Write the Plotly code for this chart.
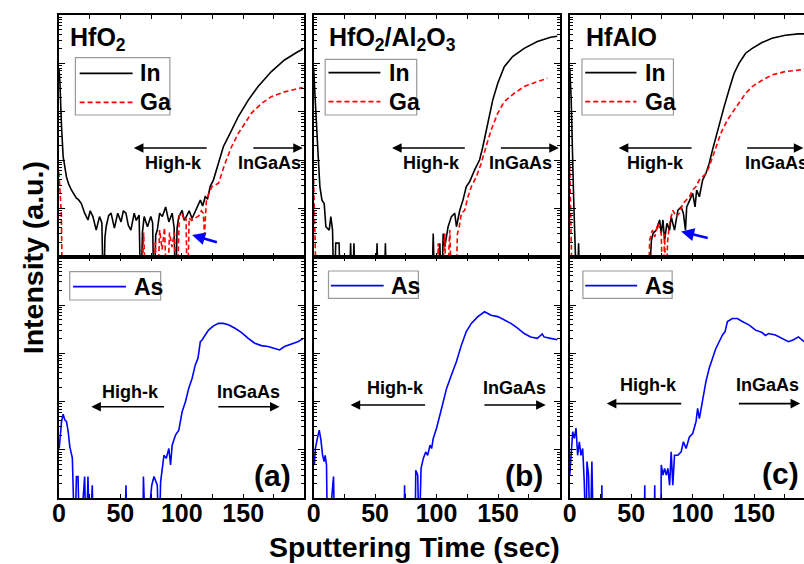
import plotly.graph_objects as go

# ---------------- data (time in sec, log10 intensity in a.u.) ----------------
t_in_a = [0, 0.8, 2.2, 3.5, 6.2, 8, 10.2, 12, 14.3, 16, 18.3, 21, 23.7, 25.5, 27.7, 30.4, 33.1, 35, 36.3, 37.5,
          38.5, 40.5, 42.5, 45.2, 47.9, 50.6, 52.5, 54.6, 56.5, 58.6, 61.3, 63, 65.3, 66.7, 68, 69.4, 72.1, 74.8,
          76.3, 77.4, 78.8, 80.1, 82, 84.2, 86.9, 89.5, 92.2, 93.8, 94.9, 96.2, 97.6, 100.3, 102, 104.3, 106,
          108.4, 110.5, 112.4, 115.1, 117, 119.1, 121, 123.1, 125.8, 129.9, 133.9, 139.3, 146, 154.1, 162.1,
          172.9, 183.6, 194.4, 198.4]
lg_in_a = [3.9, 3.65, 2.69, 2.07, 1.65, 1.5, 1.38, 1.3, 1.21, 1.18, 1.10, 0.90, 0.76, 0.95, 0.83, 0.55, 0.83, 0.7,
           -1, 0.4, 0.62, 0.85, 0.90, 0.59, 0.90, 0.72, 0.95, 0.90, 0.65, 0.55, 0.90, 0.75, 0.86, -1, 0.5, 0.83,
           0.62, 0.83, 0.7, -1, 0.45, 0.55, 0.9, 0.83, 1.03, 0.72, 0.90, 0.6, -1, 0.6, 0.83, 0.96, 0.75, 0.86,
           0.95, 0.79, 0.9, 1.03, 1.17, 1.05, 1.24, 1.2, 1.45, 1.59, 1.93, 2.28, 2.55, 2.90, 3.24, 3.52, 3.83,
           4.07, 4.24, 4.29]

t_ga_a = [0, 1, 2, 3, 67, 69, 71, 77, 78.5, 80, 82, 84, 86, 88, 90, 92, 94, 96, 98, 100, 102, 103.5, 104.5, 106,
          108, 111, 114, 116, 117.5, 118.5, 120, 122, 124.5, 129.9, 135.2, 140.6, 146, 151.4, 156.7, 164.8,
          172.9, 183.6, 198.4]
lg_ga_a = [1.75, 1.3, 0.9, -1, -1, 0.5, -1, -1, 0.3, -1, 0.55, 0.15, 0.6, -1, 0.5, 0.2, 0.5, -1, 0.85, 0.9,
           0.75, 0.8, -1, 0.8, 0.75, 0.8, 0.85, 0.95, 0.9, 0.45, 1.15, 1.3, 1.45, 1.52, 1.93, 2.28, 2.55, 2.76,
           2.97, 3.17, 3.31, 3.41, 3.50]

t_as_a = [0.3, 2.2, 3.5, 4.9, 6.2, 7.6, 8.9, 11.0, 12.9, 14.3, 15.6, 17, 21, 22.3, 23.7, 25, 27.2, 28.3, 53.5,
          54.6, 55.7, 68.3, 68.8, 70.7, 75.6, 77.4, 80.1, 81.5, 82.8, 84.2, 85.5, 87.4, 89.5, 90.9, 92.2, 94.9,
          97.6, 100.3, 103, 105.7, 108.4, 111.0, 113.2, 115.1, 116.4, 119.1, 121.8, 125.8, 129.9, 133.9, 137.9,
          143.3, 148.7, 154.1, 159.4, 164.8, 170.2, 175.6, 179.6, 183.6, 189, 194.4, 198.4]
lg_as_a = [1.03, 1.59, 1.74, 1.62, 1.59, 1.38, 1.07, 0.83, -1, 0.45, 0.45, -1, 0.45, -1, 0.45, -1, 0.27, -1, -1,
           0.27, -1, -1, 0.45, -1, 0.27, 0.45, 0.27, -1, 0.34, 0.62, 0.89, 0.83, 1.03, 0.69, 1.10, 1.31, 1.41,
           1.79, 2.0, 2.28, 2.48, 2.76, 2.90, 3.24, 3.27, 3.38, 3.48, 3.57, 3.62, 3.62, 3.59, 3.52, 3.43, 3.31,
           3.21, 3.16, 3.14, 3.10, 3.07, 3.14, 3.19, 3.24, 3.30]

t_in_b = [0, 1.4, 3.3, 5.1, 6.8, 8.6, 9.97, 12.7, 14, 15.4, 16.7, 18, 20.7, 22.1, 28.8, 30.1, 31.5, 32.8, 34.2,
          50.5, 51.6, 52.8, 57.2, 58.4, 59.6, 96, 97.3, 98.7, 101.5, 102.7, 104, 105.4, 106.7, 109.4, 112.1, 114.8,
          116.2, 118.9, 121.5, 124.2, 126.9, 130.9, 135, 137.7, 141.7, 145.7, 149.8, 155.1, 161.9, 171.3, 182.0,
          192.8, 198.2]
lg_in_b = [3.9, 3.31, 2.28, 1.45, 1.17, 1.10, 0.62, 0.55, 0.83, 0.55, -1, 0.28, 0.28, -1, -1, 0.28, -1, 0.28, -1,
           -1, 0.28, -1, -1, 0.28, -1, -1, 0.48, -1, -1, 0.28, -1, 0.48, 0.2, 0.62, 0.83, 0.90, 0.62, 0.96, 1.17,
           1.45, 1.55, 1.79, 2.0, 2.28, 2.76, 3.24, 3.59, 3.93, 4.14, 4.31, 4.45, 4.54, 4.56]

t_ga_b = [0, 0.6, 1.5, 2.5, 100, 101.4, 103.5, 106.7, 108, 110.8, 112.5, 115.5, 117, 118.5, 120.2, 122.9, 125.6,
          128.3, 132.3, 136.3, 140.3, 144.4, 149.8, 155.1, 163.2, 171.3, 182, 190.1]
lg_ga_b = [1.6, 1.17, 0.55, -1, -1, 0.28, -1, 0.48, -1, 0.55, -1, -1, 0.48, 0.62, 0.90, 0.96, 1.24, 1.45, 1.65,
           1.93, 2.28, 2.62, 2.97, 3.21, 3.38, 3.52, 3.62, 3.69]

t_as_b = [0.6, 1.4, 3.3, 4.6, 6.0, 7.3, 8.6, 9.4, 10.5, 11.3, 16.2, 17.2, 73.5, 74, 74.5, 82.5, 83.1, 84.7, 85.8,
          87.4, 89.3, 91.2, 92.8, 94.7, 96, 97.3, 100, 102.7, 104.6, 108.1, 112.1, 116.2, 120.2, 124.2, 128.3,
          133.6, 139, 144.4, 149.8, 155.1, 160.5, 165.9, 171.3, 176.6, 182, 186, 187.4, 192.8, 198.2]
lg_as_b = [0.69, 1.03, 1.27, 1.41, 1.20, 0.89, 0.76, 0.89, 0.69, -1, 0.45, -1, -1, 0.27, -1, -1, 0.58, 0.48, -1,
           0.62, 0.83, 0.96, 0.89, 1.10, 1.03, 1.24, 1.45, 1.72, 1.93, 2.27, 2.55, 2.83, 3.17, 3.45, 3.62, 3.76,
           3.86, 3.79, 3.76, 3.69, 3.62, 3.52, 3.41, 3.34, 3.31, 3.40, 3.34, 3.31, 3.28]

t_in_c = [0, 1.1, 3.2, 4.6, 5.9, 7.2, 8.3, 63.7, 66.4, 67.7, 70.4, 73.1, 74.4, 75.8, 77.1, 79, 81.2, 82.5, 85.2,
          87.9, 90.6, 92.4, 94.1, 95.1, 97.3, 100, 101.9, 103.2, 105.4, 108.1, 110.7, 113.4, 116.1, 118.8, 121.5,
          125.5, 129.5, 133.6, 137.6, 143, 148.4, 156.4, 164.5, 175.3, 186, 190.6]
lg_in_c = [3.9, 3.31, 1.17, 0.48, -1, 0.28, -1, -1, 0.34, 0.48, 0.55, 0.76, 0.48, 0.76, 0.34, 0.69, 0.55, 0.83,
           0.55, 0.96, 1.03, 0.90, 0.55, 1.03, 1.17, 1.31, 1.03, 1.38, 1.24, 1.59, 1.72, 1.93, 2.21, 2.48, 2.76,
           3.10, 3.45, 3.79, 4.0, 4.21, 4.31, 4.43, 4.52, 4.58, 4.61, 4.61]

t_ga_c = [0, 0.5, 1.2, 2.2, 63.5, 65, 67.2, 69.1, 71.7, 74.4, 75.8, 77.1, 78.5, 79.5, 81.2, 83.8, 86.5, 89.2,
          91.9, 94.6, 97.3, 100, 102.7, 105.4, 108.1, 110.7, 113.4, 116.1, 118.8, 122.8, 128.2, 133.6, 138.9, 143,
          148.4, 156.4, 164.5, 175.3, 186, 190.6]
lg_ga_c = [1.9, 1.5, 0.6, -1, -1, 0.34, 0.55, 0.41, 0.69, 0.48, -1, 0.48, -1, 0.3, 0.69, 0.96, 0.83, 0.90, 1.10,
           1.17, 1.24, 1.38, 1.45, 1.59, 1.65, 1.72, 1.86, 2.07, 2.28, 2.55, 2.83, 3.03, 3.24, 3.38, 3.52, 3.65,
           3.76, 3.83, 3.86, 3.88]

t_as_c = [0, 1.1, 2.4, 3.7, 5.1, 6.4, 7.8, 9.1, 10.5, 11.8, 13.2, 14, 15.3, 16.6, 18, 19.3, 25.6, 26.1, 26.6,
          60.5, 61, 61.5, 68.6, 69.1, 69.6, 74, 74.4, 75.8, 77.1, 78.5, 79.8, 81.2, 82.5, 83.8, 85.2, 87.9, 90.6,
          92.4, 94.6, 97.3, 100, 102.7, 104, 105.4, 108.1, 110.7, 113.4, 116.1, 118.8, 121.5, 124.2, 126.3, 128.2,
          132.2, 136.3, 140.3, 145.7, 151.1, 156.4, 159.1, 161.8, 167.2, 172.6, 177.9, 182, 186, 190.6]
lg_as_c = [0.48, 1.03, 1.38, 1.24, 1.45, 0.89, 1.17, 0.89, 1.03, 0.34, -1, 0.76, 0.48, -1, 0.76, -1, -1, 0.27, -1,
           -1, 0.27, -1, -1, 0.27, -1, -1, 0.69, 0.48, 0.62, 0.48, 0.62, 0.27, 0.96, 0.27, 0.89, 0.89, 0.96, 1.17,
           1.03, 1.27, 1.34, 1.59, 1.86, 1.65, 2.07, 2.41, 2.69, 2.90, 3.10, 3.24, 3.38, 3.45, 3.66, 3.72, 3.72,
           3.66, 3.59, 3.48, 3.43, 3.37, 3.41, 3.38, 3.31, 3.24, 3.28, 3.34, 3.24]

panel_titles = ["HfO<sub>2</sub>", "HfO<sub>2</sub>/Al<sub>2</sub>O<sub>3</sub>", "HfAlO"]
panel_letters = ["(a)", "(b)", "(c)"]
x_tick_vals = [0, 50, 100, 150]
x_tick_text = ["0", "50", "100", "150"]
x_title = "Sputtering Time (sec)"
y_title = "Intensity (a.u.)"

# ---------------- layout helpers ----------------
W, H = 804, 564
FONT = "Liberation Sans, Arial, sans-serif"


def px(x):
    return x / W


def py(y):
    return 1 - y / H


col_x = [(52.3, 299.3), (309.3, 557.7), (567.7, 804.0)]
x_ranges = [[0, 199.2], [0, 200.3], [0, 190.5]]
row_y = [(15.0, 256.7), (256.7, 498.3)]

fig = go.Figure()


def add_line(idx, t, lg, color, dash="solid", width=1.6):
    n = min(len(t), len(lg))
    fig.add_trace(go.Scatter(
        x=t[:n], y=[10 ** v for v in lg[:n]], mode="lines",
        line=dict(color=color, width=width, dash=dash),
        xaxis="x" if idx == 1 else f"x{idx}", yaxis="y" if idx == 1 else f"y{idx}",
        showlegend=False, hoverinfo="skip"))


BLACK, RED, BLUE = "#000000", "#ff0000", "#0000ff"
add_line(1, t_in_a, lg_in_a, BLACK)
add_line(1, t_ga_a, lg_ga_a, RED, "5px,3px")
add_line(2, t_in_b, lg_in_b, BLACK)
add_line(2, t_ga_b, lg_ga_b, RED, "5px,3px")
add_line(3, t_in_c, lg_in_c, BLACK)
add_line(3, t_ga_c, lg_ga_c, RED, "5px,3px")
add_line(4, t_as_a, lg_as_a, BLUE)
add_line(5, t_as_b, lg_as_b, BLUE)
add_line(6, t_as_c, lg_as_c, BLUE)

layout = dict(
    width=W, height=H, autosize=False,
    margin=dict(l=0, r=0, t=0, b=0),
    paper_bgcolor="white", plot_bgcolor="white",
    font=dict(family=FONT, color="black"),
    showlegend=False,
)

for r in range(2):
    for c in range(3):
        idx = r * 3 + c + 1
        xname = "xaxis" if idx == 1 else f"xaxis{idx}"
        yname = "yaxis" if idx == 1 else f"yaxis{idx}"
        xa = "x" if idx == 1 else f"x{idx}"
        ya = "y" if idx == 1 else f"y{idx}"
        x0, x1 = col_x[c]
        y0, y1 = row_y[r]
        layout[xname] = dict(
            domain=[px(x0), min(px(x1), 1.0)], anchor=ya, range=x_ranges[c],
            showline=True, linecolor="black", linewidth=1.8, mirror="ticks",
            ticks="inside", ticklen=4, tickwidth=1.2, tickcolor="black",
            tickvals=x_tick_vals, ticktext=x_tick_text,
            showticklabels=(r == 1), ticklabelstandoff=-8,
            tickfont=dict(family=FONT, size=25, color="black", weight="bold"),
            minor=dict(ticks="inside", ticklen=4, tickwidth=1.2, dtick=25, tick0=0, tickcolor="black"),
            showgrid=False, zeroline=False, fixedrange=True,
        )
        layout[yname] = dict(
            domain=[py(y1), py(y0)], anchor=xa, type="log", range=[0, 5],
            showline=True, linecolor="black", linewidth=1.8,
            mirror=("ticks" if c < 2 else False),
            ticks="inside", ticklen=6, tickwidth=1.2, tickcolor="black", dtick=1,
            showticklabels=False,
            minor=dict(ticks="inside", ticklen=3, tickwidth=1, dtick="D1", tickcolor="black"),
            showgrid=False, zeroline=False, fixedrange=True,
        )

fig.update_layout(**layout)

ann = []
shapes = []


def txt(x, y, s, size, xanchor="center", yanchor="middle", xref="paper", yref="paper", angle=0):
    ann.append(dict(x=x, y=y, xref=xref, yref=yref, text=s, showarrow=False,
                    xanchor=xanchor, yanchor=yanchor, textangle=angle,
                    font=dict(family=FONT, size=size, color="black", weight="bold")))


def arrow(axis_idx, t_head, t_tail, lg_head, lg_tail, color="black", width=1.6, size=1.2):
    xa = "x" if axis_idx == 1 else f"x{axis_idx}"
    ya = "y" if axis_idx == 1 else f"y{axis_idx}"
    ann.append(dict(x=t_head, y=lg_head, ax=t_tail, ay=lg_tail, xref=xa, yref=ya, axref=xa, ayref=ya,
                    text="", showarrow=True, arrowhead=2, arrowsize=size, arrowwidth=width,
                    arrowcolor=color, standoff=0, startstandoff=0))


# panel titles
title_x = [62, 322.5, 582]
for c in range(3):
    txt(px(title_x[c]), py(21), panel_titles[c], 25, xanchor="left", yanchor="top")

# region arrows and labels (time, log10 intensity)
top_hk = [(61, 121.5, 93.3), (63.8, 124.2, 96.0), (39.8, 100.3, 69.4)]
top_ig = [(157, 198.5, 171.5), (151.1, 199.5, 168.5), (143.1, 190.0, 168.0)]
for c in range(3):
    h, tl, tx = top_hk[c]
    arrow(c + 1, h, tl, 2.25, 2.25)
    txt(tx, 1.93, "High-k", 18, xref="x" if c == 0 else f"x{c+1}", yref="y" if c == 0 else f"y{c+1}")
    tl2, h2, tx2 = top_ig[c]
    arrow(c + 1, h2, tl2, 2.25, 2.25)
    txt(tx2, 1.93, "InGaAs", 18, xref=f"x{c+1}" if c else "x", yref=f"y{c+1}" if c else "y")

bot_hk = [(26.4, 86.8, 58.6, 2.205, 1.895), (30.1, 91.9, 66.5, 2.28, 1.93), (30.1, 91.9, 64.0, 2.34, 1.96)]
bot_ig = [(128.5, 179.6, 154.0), (137.7, 188.8, 163.2), (136.3, 187.4, 160.5)]
for c in range(3):
    idx = c + 4
    h, tl, tx, ty, ay = bot_hk[c]
    arrow(idx, h, tl, ay, ay)
    txt(tx, ty, "High-k", 18, xref=f"x{idx}", yref=f"y{idx}")
    tl2, h2, tx2 = bot_ig[c]
    arrow(idx, h2, tl2, ay, ay)
    txt(tx2, ty, "InGaAs", 18, xref=f"x{idx}", yref=f"y{idx}")

# panel letters
letter_pos = [(174.0, 0.48), (171.3, 0.48), (171.4, 0.52)]
for c in range(3):
    txt(letter_pos[c][0], letter_pos[c][1], panel_letters[c], 30, xref=f"x{c+4}", yref=f"y{c+4}")

# blue marker arrows
arrow(1, 108.4, 129.8, 0.45, 0.29, color=BLUE, width=2.6, size=1.0)
arrow(3, 90.6, 113.4, 0.52, 0.38, color=BLUE, width=2.6, size=1.0)

# axis titles
txt(px(411.5), py(547), x_title, 28.5)
txt(px(26.5), py(258), y_title, 28.5, angle=-90)

# legends (drawn boxes)
top_leg = [(69, 164.3, 57.7, 115, 73.3, 126.7, 132.3, 73.3, 102.3),
           (321, 413.3, 59.3, 115, 324.3, 376.7, 383.3, 72.7, 101.7),
           (580, 672.3, 59, 115, 583.3, 635, 641.7, 72.7, 101.7)]
for (bx0, bx1, by0, by1, lx0, lx1, tx, yin, yga) in top_leg:
    shapes.append(dict(type="rect", xref="paper", yref="paper", x0=px(bx0), x1=px(bx1), y0=py(by1), y1=py(by0),
                       line=dict(color="#9a9a9a", width=1.2), fillcolor="white", layer="above"))
    shapes.append(dict(type="line", xref="paper", yref="paper", x0=px(lx0), x1=px(lx1), y0=py(yin), y1=py(yin),
                       line=dict(color=BLACK, width=1.8), layer="above"))
    shapes.append(dict(type="line", xref="paper", yref="paper", x0=px(lx0), x1=px(lx1), y0=py(yga), y1=py(yga),
                       line=dict(color=RED, width=1.8, dash="5px,3px"), layer="above"))
    txt(px(tx), py(yin), "In", 23, xanchor="left")
    txt(px(tx), py(yga), "Ga", 23, xanchor="left")

bot_leg = [(63.3, 155, 271.7, 300, 66.7, 120, 126, 286.7),
           (324.3, 415, 271, 298.3, 326.7, 380, 385, 285.7),
           (581, 671, 271, 298.3, 583.3, 635.7, 641.7, 285.7)]
for (bx0, bx1, by0, by1, lx0, lx1, tx, yas) in bot_leg:
    shapes.append(dict(type="rect", xref="paper", yref="paper", x0=px(bx0), x1=px(bx1), y0=py(by1), y1=py(by0),
                       line=dict(color="#9a9a9a", width=1.2), fillcolor="white", layer="above"))
    shapes.append(dict(type="line", xref="paper", yref="paper", x0=px(lx0), x1=px(lx1), y0=py(yas), y1=py(yas),
                       line=dict(color=BLUE, width=1.8), layer="above"))
    txt(px(tx), py(yas), "As", 23, xanchor="left")

fig.update_layout(annotations=ann, shapes=shapes)
fig.write_html(
    "out.html",
    config={"displayModeBar": False},
    post_script="document.body.style.margin='0';document.body.style.overflow='hidden';"
                "document.documentElement.style.overflow='hidden';",
)
